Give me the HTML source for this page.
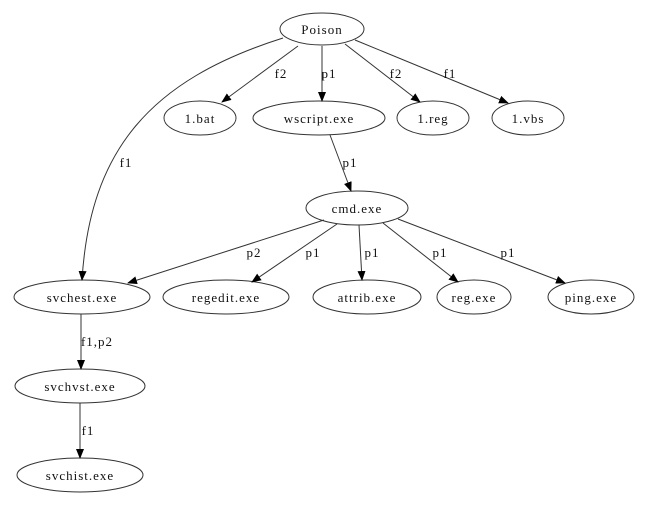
<!DOCTYPE html>
<html><head><style>
html,body{margin:0;padding:0;background:#fff;}
svg text{font-family:"Liberation Serif",serif;font-size:13px;letter-spacing:1px;fill:#111;}
</style></head><body>
<svg width="664" height="503" viewBox="0 0 664 503" xmlns="http://www.w3.org/2000/svg">
<defs><marker id="a" markerWidth="10" markerHeight="8" refX="9" refY="4" orient="auto" markerUnits="userSpaceOnUse"><path d="M0,0 L10,4 L0,8z" fill="#000"/></marker></defs>
<g fill="none" stroke="#333" stroke-width="1">
<ellipse cx="322" cy="29" rx="42" ry="16"/>
<ellipse cx="200" cy="118" rx="36" ry="17"/>
<ellipse cx="319" cy="118" rx="66" ry="17"/>
<ellipse cx="433" cy="118" rx="36" ry="17"/>
<ellipse cx="528" cy="118" rx="36" ry="17"/>
<ellipse cx="357" cy="208" rx="51" ry="17"/>
<ellipse cx="82" cy="297" rx="68" ry="17"/>
<ellipse cx="226" cy="297" rx="63" ry="17"/>
<ellipse cx="367" cy="297" rx="54" ry="17"/>
<ellipse cx="474" cy="297" rx="37" ry="17"/>
<ellipse cx="591" cy="297" rx="43" ry="17"/>
<ellipse cx="80" cy="386" rx="65" ry="17"/>
<ellipse cx="80" cy="475" rx="63" ry="17"/>
</g>
<g fill="none" stroke="#333" stroke-width="1" marker-end="url(#a)">
<path d="M283,38 C150,80 90,150 82,280"/>
<path d="M298,46 L222,102"/>
<path d="M322,46 L322,101"/>
<path d="M345,44 L420,102"/>
<path d="M355,40 L508,103"/>
<path d="M330,135 L351,191"/>
<path d="M324,220 L128,283"/>
<path d="M337,224 L252,282"/>
<path d="M359,225 L362,280"/>
<path d="M383,223 L458,282"/>
<path d="M398,219 L565,283"/>
<path d="M81,314 L81,369"/>
<path d="M80,403 L80,458"/>
</g>
<g text-anchor="middle">
<text x="322" y="34">Poison</text>
<text x="200" y="123">1.bat</text>
<text x="319" y="123">wscript.exe</text>
<text x="433" y="123">1.reg</text>
<text x="528" y="123">1.vbs</text>
<text x="357" y="213">cmd.exe</text>
<text x="82" y="302">svchest.exe</text>
<text x="226" y="302">regedit.exe</text>
<text x="367" y="302">attrib.exe</text>
<text x="474" y="302">reg.exe</text>
<text x="591" y="302">ping.exe</text>
<text x="80" y="391">svchvst.exe</text>
<text x="80" y="480">svchist.exe</text>
<text x="281" y="78">f2</text>
<text x="329" y="78">p1</text>
<text x="396" y="78">f2</text>
<text x="450" y="78">f1</text>
<text x="126" y="167">f1</text>
<text x="350" y="167">p1</text>
<text x="254" y="257">p2</text>
<text x="313" y="257">p1</text>
<text x="372" y="257">p1</text>
<text x="440" y="257">p1</text>
<text x="508" y="257">p1</text>
<text x="97" y="346">f1,p2</text>
<text x="88" y="435">f1</text>
</g>
</svg>
</body></html>
